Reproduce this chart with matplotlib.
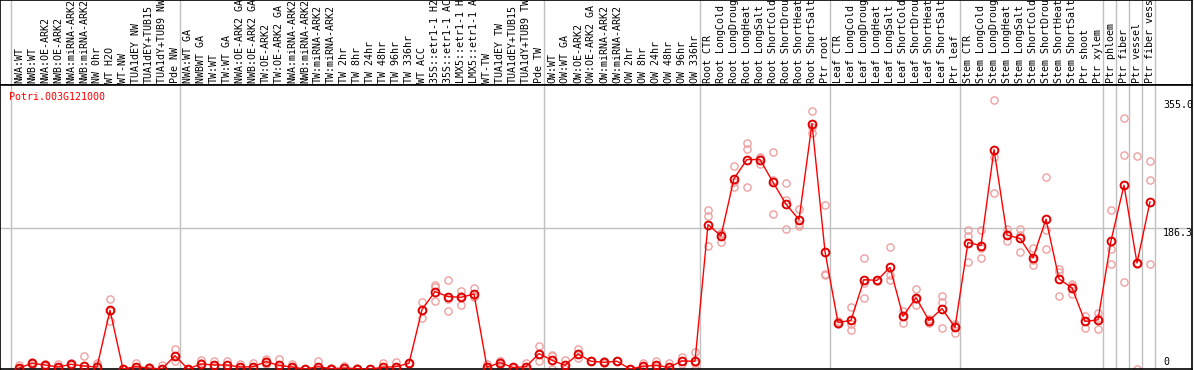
import matplotlib
matplotlib.use('Agg')
import matplotlib.pyplot as plt

# sample names (one column each)
labels = [
    'NWA:WT', 'NWB:WT', 'NWA:OE-ARK2', 'NWB:OE-ARK2', 'NWA:miRNA-ARK2',
    'NWB:miRNA-ARK2', 'NW 0hr', 'WT H2O', 'WT-NW', 'TUA1dEY NW',
    'TUA1dEY+TUB15', 'TUA1dY+TUB9 NW', 'Pde NW',
    'NWA:WT GA', 'NWBWT GA', 'TW:WT', 'TW:WT GA', 'NWA:OE-ARK2 GA',
    'NWB:OE-ARK2 GA', 'TW:OE-ARK2', 'TW:OE-ARK2 GA', 'NWA:miRNA-ARK2',
    'NWB:miRNA-ARK2', 'TW:miRNA-ARK2', 'TW:miRNA-ARK2', 'TW 2hr', 'TW 8hr',
    'TW 24hr', 'TW 48hr', 'TW 96hr', 'TW 336hr', 'WT ACC',
    '35S::etr1-1 H2O', '35S::etr1-1 ACC', 'LMX5::etr1-1 H2O',
    'LMX5::etr1-1 ACC', 'WT-TW', 'TUA1dEY TW', 'TUA1dEY+TUB15',
    'TUA1dY+TUB9 TW', 'Pde TW',
    'OW:WT', 'OW:WT GA', 'OW:OE-ARK2', 'OW:OE-ARK2 GA', 'OW:miRNA-ARK2',
    'OW:miRNA-ARK2', 'OW 2hr', 'OW 8hr', 'OW 24hr', 'OW 48hr', 'OW 96hr',
    'OW 336hr',
    'Root CTR', 'Root LongCold', 'Root LongDrought', 'Root LongHeat',
    'Root LongSalt', 'Root ShortCold', 'Root ShortDrought', 'Root ShortHeat',
    'Root ShortSalt', 'Ptr root',
    'Leaf CTR', 'Leaf LongCold', 'Leaf LongDrought', 'Leaf LongHeat',
    'Leaf LongSalt', 'Leaf ShortCold', 'Leaf ShortDrought', 'Leaf ShortHeat',
    'Leaf ShortSalt', 'Ptr leaf',
    'Stem CTR', 'Stem LongCold', 'Stem LongDrought', 'Stem LongHeat',
    'Stem LongSalt', 'Stem ShortCold', 'Stem ShortDrought', 'Stem ShortHeat',
    'Stem ShortSalt', 'Ptr shoot', 'Ptr xylem',
    'Ptr phloem', 'Ptr fiber', 'Ptr vessel', 'Ptr fiber vessel',
]

# group separators (column index where a new group starts)
group_starts = [0, 13, 41, 53, 63, 73, 84, 85, 86, 87, 88]

means = [
    1.3, 7.5, 5.3, 2.6, 6.2, 4, 2.6, 77.5, 0, 3.1, 1.3, 0, 17.6,
    0, 6.6, 5.3, 5.3, 2.6, 3, 9.7, 4.8, 2.6, 0, 3, 0.5, 1.3, 0.5, 0, 2.2,
    3.1, 7.5, 78.4, 102.2, 95.6, 94.7, 99, 2.2, 8.4, 2, 3.1, 20.3,
    11.5, 4.9, 19.8, 10.2, 8.8, 10.2, 0, 3.5, 4.9, 2.2, 10.6, 10.2,
    190.7, 175.7, 251.5, 276.6, 276.6, 246.6, 217.6, 197.3, 324, 155,
    61.3, 64.3, 118, 117, 134.3, 69.6, 94.3, 63.9, 79.8, 55,
    167, 163, 289.8, 176.8, 172.4, 146.6, 197.9, 119, 107, 62.8, 65,
    169.3, 242.6, 140, 220.7,
]

reps = [
    [5, 0, 0], [9, 8, 5], [7, 5, 4], [7, 1, 0], [8, 6, 5], [17, 0, 0],
    [8, 5, 0], [93, 77, 63], [0, 0, 0], [8, 2, 0], [2, 1, 0], [5, 0, 0],
    [26, 17, 11],
    [0, 0, 0], [12, 8, 0], [10, 5, 2], [11, 5, 0], [7, 2, 0], [8, 2, 0],
    [13, 10, 6], [13, 2, 0], [7, 1, 0], [0, 0, 0], [10, 0, 0], [1, 0, 0],
    [4, 0, 0], [1, 0, 0], [0, 0, 0], [8, 0, 0], [9, 1, 0], [8, 8, 7],
    [88, 78, 68], [111, 108, 90], [117, 93, 77], [103, 96, 85],
    [107, 96, 95], [6, 0, 0], [11, 10, 5], [3, 2, 1], [8, 2, 0],
    [30, 20, 11],
    [18, 17, 0], [12, 3, 0], [26, 20, 14], [11, 10, 10], [10, 9, 8],
    [11, 10, 10], [0, 0, 0], [8, 2, 0], [11, 4, 0], [8, 0, 0],
    [16, 10, 6], [22, 8, 0],
    [210, 202, 163], [180, 178, 168], [268, 247, 240], [298, 291, 240],
    [280, 279, 271], [286, 249, 205], [246, 223, 185], [211, 192, 189],
    [341, 320, 312], [217, 126, 124],
    [64, 61, 59], [82, 60, 51], [146, 114, 94], [118, 117, 116],
    [161, 124, 118], [76, 70, 61], [105, 93, 85], [66, 64, 61],
    [97, 88, 54], [60, 57, 48],
    [184, 176, 141], [183, 160, 146], [355, 280, 232], [185, 177, 169],
    [185, 177, 155], [160, 144, 137], [253, 183, 158], [132, 128, 97],
    [112, 110, 99], [70, 64, 54], [74, 68, 53],
    [210, 158, 139], [331, 282, 115], [281, 139, 0], [275, 249, 139],
]

gene = 'Potri.003G121000'
ytick_vals = [355.0, 186.3, 0]

W, H = 1194, 370
fig = plt.figure(figsize=(W / 100, H / 100), dpi=100)

# pixel layout
x_left, x_right = 0, 1192
y_header = 85
y_bottom = 369
col0, colw = 19, 13  # centre of first column, column width (px)

xlim = ((x_left - col0) / colw, (x_right - col0) / colw)

def frac(px, py):
    return px / W, 1 - py / H

font = dict(family='DejaVu Sans Mono', size=7.2)

# header with rotated sample labels
hx, hy = frac(x_left, y_header)
hdr = fig.add_axes([hx, hy, (x_right - x_left) / W, y_header / H])
hdr.set_xlim(*xlim)
hdr.set_ylim(0, y_header)
hdr.set_xticks([])
hdr.set_yticks([])
for s in hdr.spines.values():
    s.set_linewidth(1.2)
    s.set_color('black')
for i, lab in enumerate(labels):
    t = hdr.text(i, 2, lab, rotation=90, ha='center', va='bottom',
                 color='black', clip_on=True, **font)
for k in group_starts:
    hdr.axvline(k - 8 / colw, color='#c0c0c0', lw=1)

# main plot
px0, py0 = frac(x_left, y_bottom)
ax = fig.add_axes([px0, py0, (x_right - x_left) / W, (y_bottom - y_header) / H])
ax.set_xlim(*xlim)
ax.set_ylim(0, 375)
ax.set_xticks([])
ax.set_yticks([])
for s in ax.spines.values():
    s.set_linewidth(1.2)
    s.set_color('black')

for k in group_starts:
    ax.axvline(k - 8 / colw, color='#c0c0c0', lw=1, zorder=0)
ax.axhline(186.3, color='#c0c0c0', lw=1, zorder=0)

for i, r in enumerate(reps):
    ax.plot([i] * len(r), r, 'o', mfc='none', mec='#eea0a0', ms=5.2,
            mew=1.0, zorder=2)

xs = list(range(len(means)))
ax.plot(xs, means, '-', color='red', lw=1, zorder=3)
ax.plot(xs, means, 'o', mfc='none', mec='#e00000', ms=5.6, mew=1.4, zorder=4)

# value labels on the right
tx = (1163 - col0) / colw
ax.text(tx, 355.0, '355.0', ha='left', va='top', clip_on=True, **font)
ax.text(tx, 186.3, '186.3', ha='left', va='top', clip_on=True, **font)
ax.text(tx, 3, '0', ha='left', va='bottom', clip_on=True, **font)

gx, gy = frac(9, 97)
fig.text(gx, gy, gene, color='red', ha='left', va='center', **font)

fig.savefig('out.png', dpi=100)
